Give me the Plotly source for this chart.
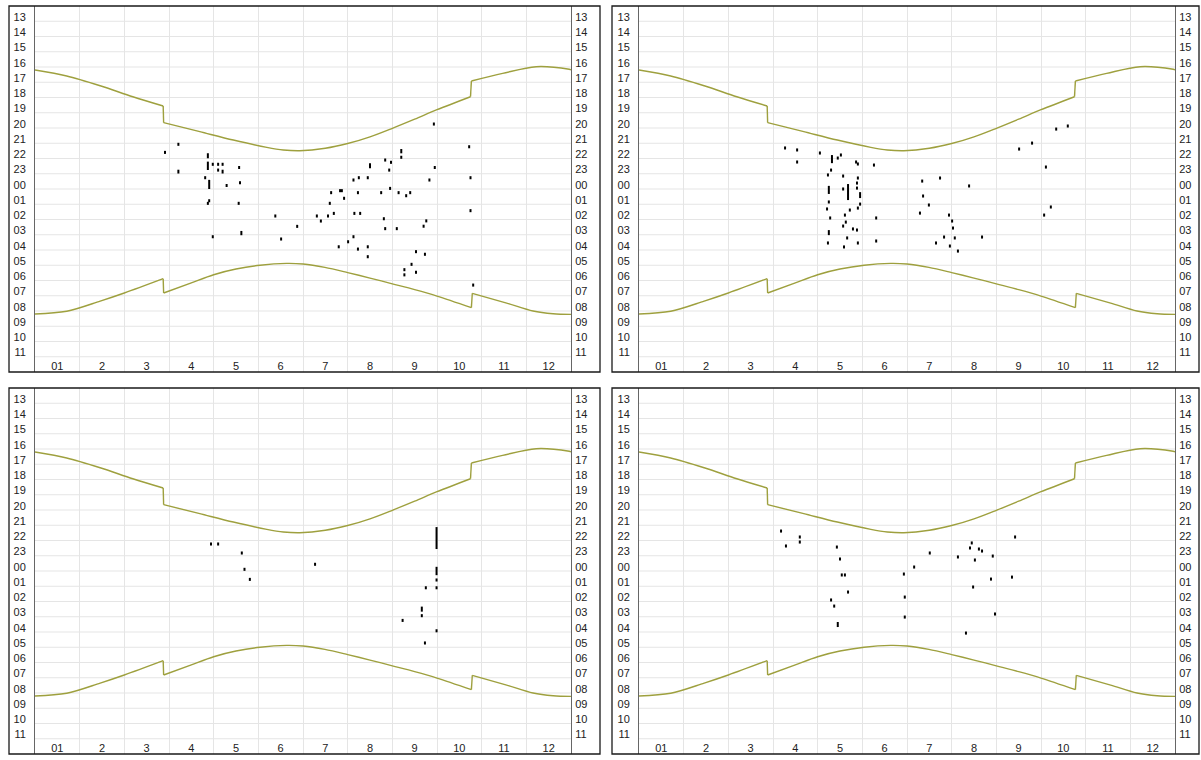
import plotly.graph_objects as go

W, H = 1201, 760

# ---- labels ----
hour_labels = ["13", "14", "15", "16", "17", "18", "19", "20", "21", "22", "23",
               "00", "01", "02", "03", "04", "05", "06", "07", "08", "09", "10", "11"]
month_labels = ["01", "2", "3", "4", "5", "6", "7", "8", "9", "10", "11", "12"]

# ---- sun curves: month position (0..12) and hours after 12:00 ----
sunset_month = [0, 0.71, 1.46, 2.19, 2.87, 2.88, 3.69, 4.44, 5.19, 5.56, 5.93, 6.5,
                7.0, 7.5, 8.0, 8.5, 9.0, 9.75, 9.77, 10.47, 11.22, 11.96, 12]
sunset_t = [4.70, 5.09, 5.73, 6.45, 7.06, 8.15, 8.74, 9.29, 9.77, 9.94, 9.99, 9.83,
            9.52, 9.08, 8.52, 7.92, 7.30, 6.45, 5.42, 4.92, 4.48, 4.65, 4.68]
sunrise_month = [0, 0.71, 1.46, 2.0, 2.87, 2.88, 3.5, 4.0, 4.5, 5.04, 5.63, 6.0, 6.49,
                 7.0, 7.5, 8.0, 8.5, 9.0, 9.77, 9.79, 10.56, 11.15, 11.6, 12]
sunrise_t = [20.70, 20.52, 19.85, 19.32, 18.38, 19.32, 18.65, 18.12, 17.75, 17.50, 17.38, 17.42,
             17.64, 17.98, 18.34, 18.72, 19.10, 19.52, 20.28, 19.34, 19.98, 20.50, 20.68, 20.72]

# ---- events per panel: month position, time (hours after 12:00), duration (h) ----
p1_month = [2.91, 3.21, 3.21, 3.87, 3.87, 3.98, 4.10, 4.20, 4.10, 4.20, 4.57, 3.81, 3.90, 4.29,
            4.59, 3.90, 3.87, 4.56, 3.98, 4.62, 5.38, 5.51, 5.87, 6.31, 6.40, 6.56, 6.69, 6.60,
            6.63, 6.83, 6.87, 6.92, 7.13, 7.25, 7.23, 7.15, 7.28, 7.13, 7.01, 6.80, 7.23, 7.45,
            7.45, 7.45, 7.50, 7.84, 7.97, 7.93, 7.95, 7.75, 8.14, 8.31, 8.40, 7.81, 7.84, 8.10,
            8.20, 8.20, 8.95, 8.83, 8.76, 8.70, 8.53, 8.73, 8.43, 8.27, 8.27, 8.53, 8.93, 9.72,
            9.75, 9.75, 9.81]
p1_t = [10.10, 9.57, 11.36, 10.32, 10.98, 10.88, 10.88, 10.88, 11.26, 11.36, 11.09, 11.76, 12.20,
        12.27, 12.09, 13.27, 13.44, 13.44, 15.63, 15.39, 14.27, 15.78, 14.95, 14.27, 14.60, 14.27,
        14.10, 13.44, 12.74, 12.61, 12.61, 13.11, 11.91, 11.76, 12.74, 14.10, 14.10, 15.63, 15.96,
        16.29, 16.44, 16.29, 16.94, 11.76, 10.98, 10.60, 10.75, 11.26, 12.46, 12.74, 12.74, 12.94,
        12.74, 14.45, 15.10, 15.10, 10.02, 10.42, 11.09, 11.91, 14.59, 14.94, 16.61, 16.78, 17.44,
        17.79, 18.13, 17.96, 8.24, 9.73, 11.76, 13.92, 18.80]
p1_span = [0.2, 0.2, 0.25, 0.33, 0.55, 0.2, 0.2, 0.2, 0.2, 0.25, 0.2, 0.2, 0.6, 0.2, 0.2, 0.2,
           0.2, 0.2, 0.2, 0.28, 0.2, 0.2, 0.2, 0.2, 0.2, 0.2, 0.2, 0.2, 0.2, 0.2, 0.2, 0.2, 0.2,
           0.2, 0.2, 0.2, 0.2, 0.2, 0.2, 0.2, 0.2, 0.2, 0.2, 0.2, 0.33, 0.2, 0.2, 0.2, 0.2, 0.2,
           0.2, 0.2, 0.2, 0.2, 0.2, 0.2, 0.28, 0.2, 0.2, 0.2, 0.2, 0.2, 0.2, 0.2, 0.2, 0.2, 0.2,
           0.2, 0.2, 0.2, 0.2, 0.2, 0.2]

p2_month = [3.27, 3.54, 3.54, 4.05, 4.32, 4.45, 4.52, 4.86, 4.90, 4.23, 4.30, 4.57, 4.90, 4.88,
            5.26, 4.25, 4.68, 4.57, 4.95, 4.88, 4.21, 4.25, 4.90, 4.95, 5.31, 4.61, 4.72, 4.28,
            4.25, 4.57, 4.63, 4.79, 4.88, 4.23, 4.59, 4.90, 5.31, 4.66, 6.34, 6.36, 6.49, 6.74,
            6.29, 6.94, 7.01, 7.03, 7.07, 6.65, 6.83, 6.96, 7.14, 7.39, 7.68, 8.51, 8.80, 9.11,
            9.07, 9.22, 9.34, 9.60]
p2_t = [9.81, 9.94, 10.73, 10.14, 10.54, 10.47, 10.27, 10.73, 10.86, 11.58, 11.26, 11.65, 11.78,
        12.11, 10.93, 12.56, 12.70, 12.50, 12.90, 12.44, 13.81, 13.35, 13.75, 13.49, 14.40, 14.21,
        13.88, 14.40, 15.36, 14.93, 14.67, 15.12, 15.19, 16.04, 16.30, 16.04, 15.91, 15.71, 11.98,
        12.96, 13.55, 11.78, 14.08, 14.21, 14.60, 15.06, 15.71, 16.04, 15.65, 16.24, 16.57, 12.30,
        15.65, 9.88, 9.49, 11.06, 14.21, 13.68, 8.57, 8.37]
p2_span = [0.2, 0.2, 0.2, 0.2, 0.53, 0.2, 0.2, 0.2, 0.2, 0.2, 0.2, 0.2, 0.2, 0.2, 0.2, 0.53, 1.05,
           0.2, 0.39, 0.2, 0.2, 0.2, 0.2, 0.2, 0.2, 0.2, 0.2, 0.2, 0.33, 0.2, 0.2, 0.2, 0.2, 0.2,
           0.2, 0.2, 0.2, 0.2, 0.2, 0.2, 0.2, 0.2, 0.2, 0.2, 0.2, 0.2, 0.2, 0.2, 0.2, 0.2, 0.2,
           0.2, 0.2, 0.2, 0.2, 0.2, 0.2, 0.2, 0.2, 0.2]

p3_month = [3.94, 4.10, 4.63, 4.69, 4.81, 6.27, 8.99, 8.99, 8.99, 8.99, 8.75, 8.66, 8.66, 8.23,
            8.99, 8.73]
p3_t = [10.73, 10.73, 11.32, 12.39, 13.05, 12.06, 10.34, 12.50, 13.09, 13.60, 13.60, 15.00,
        15.43, 15.74, 16.42, 17.22]
p3_span = [0.2, 0.2, 0.2, 0.2, 0.2, 0.2, 1.44, 0.55, 0.2, 0.2, 0.2, 0.33, 0.2, 0.2, 0.2, 0.2]

p4_month = [3.18, 3.29, 3.60, 3.60, 4.43, 4.50, 4.54, 4.61, 4.68, 4.30, 4.37, 4.45, 5.93, 5.95,
            5.95, 6.16, 6.51, 7.14, 7.32, 7.41, 7.45, 7.61, 7.68, 7.52, 7.48, 7.88, 7.92, 7.97,
            8.35, 8.42]
p4_t = [9.88, 10.86, 10.27, 10.60, 10.93, 11.71, 12.76, 12.76, 13.88, 14.40, 14.80, 16.01, 12.70,
        14.21, 15.52, 12.24, 11.32, 11.58, 16.57, 10.99, 10.66, 11.06, 11.19, 11.78, 13.55, 13.03,
        11.52, 15.32, 12.90, 10.27]
p4_span = [0.2, 0.2, 0.2, 0.2, 0.2, 0.2, 0.2, 0.2, 0.2, 0.2, 0.2, 0.33, 0.2, 0.2, 0.2, 0.2, 0.2,
           0.2, 0.2, 0.2, 0.2, 0.2, 0.2, 0.2, 0.2, 0.2, 0.2, 0.2, 0.2, 0.2]

# ---- layout geometry (pixels) ----
FONT = "Liberation Sans, Arial, Helvetica, sans-serif"
GRID = "#e5e5e5"
CURVE = "#9ea03e"
panels = [
    dict(frame=(9, 600, 6, 372), px=(35, 571), data=(p1_month, p1_t, p1_span)),
    dict(frame=(612, 1199, 6, 372), px=(639, 1175), data=(p2_month, p2_t, p2_span)),
    dict(frame=(9, 600, 388, 754), px=(35, 571), data=(p3_month, p3_t, p3_span)),
    dict(frame=(612, 1199, 388, 754), px=(639, 1175), data=(p4_month, p4_t, p4_span)),
]

n_rows = len(hour_labels) + 1  # last row holds month labels
y_range = [n_rows + 0.5, 0.5]
label_shift = 0.22
tickvals = [i + 1 + label_shift for i in range(len(hour_labels))]


def split_curve(ms, ts):
    pieces, jumps = [], []
    cur_m, cur_t = [ms[0]], [ts[0]]
    for i in range(1, len(ms)):
        if ms[i] - ms[i - 1] < 0.05 and abs(ts[i] - ts[i - 1]) > 0.5:
            pieces.append((cur_m, cur_t))
            jumps.append(((ms[i - 1], ms[i]), (ts[i - 1], ts[i])))
            cur_m, cur_t = [ms[i]], [ts[i]]
        else:
            cur_m.append(ms[i])
            cur_t.append(ts[i])
    pieces.append((cur_m, cur_t))
    return pieces, jumps


fig = go.Figure()
layout = dict(
    width=W, height=H, margin=dict(l=0, r=0, t=0, b=0),
    paper_bgcolor="white", plot_bgcolor="white", showlegend=False,
    font=dict(family=FONT, size=11, color="#222"),
    shapes=[],
)

for k, p in enumerate(panels, start=1):
    fx0, fx1, fy0, fy1 = p["frame"]
    ax0, ax1 = p["px"]
    xname = "x" if k == 1 else f"x{k}"
    yname = "y" if k == 1 else f"y{k}"
    y2name = f"y{k + 4}"
    xdom = [ax0 / W, ax1 / W]
    ydom = [1 - fy1 / H, 1 - fy0 / H]

    layout["xaxis" + ("" if k == 1 else str(k))] = dict(
        domain=xdom, range=[0, 12], anchor=yname,
        tickvals=list(range(1, 12)), showticklabels=False, ticks="",
        showgrid=True, gridcolor=GRID, gridwidth=1, zeroline=False, showline=False,
        fixedrange=True,
    )
    common_y = dict(
        domain=ydom, range=y_range, tickmode="array", tickvals=tickvals, ticktext=hour_labels,
        ticks="", showgrid=False, zeroline=False, showline=True, linecolor="#666", linewidth=1,
        tickfont=dict(family=FONT, size=11, color="#222"), fixedrange=True,
    )
    layout["yaxis" + ("" if k == 1 else str(k))] = dict(common_y, anchor=xname, side="left",
                                                        ticklabelstandoff=6)
    layout[f"yaxis{k + 4}"] = dict(common_y, anchor=xname, overlaying=yname, side="right",
                                   ticklabelstandoff=1)

    # horizontal row grid lines
    gx, gy = [], []
    for b in range(1, n_rows):
        gx += [0, 12, None]
        gy += [b + 0.5, b + 0.5, None]
    fig.add_trace(go.Scatter(x=gx, y=gy, mode="lines", line=dict(color=GRID, width=1),
                             xaxis=xname, yaxis=yname, hoverinfo="skip"))

    # sunrise / sunset curves
    for ms, ts in ((sunset_month, sunset_t), (sunrise_month, sunrise_t)):
        pieces, jumps = split_curve(ms, ts)
        for pm, pt in pieces:
            fig.add_trace(go.Scatter(x=pm, y=pt, mode="lines",
                                     line=dict(color=CURVE, width=1.4, shape="spline", smoothing=0.9),
                                     xaxis=xname, yaxis=yname, hoverinfo="skip"))
        jx, jy = [], []
        for (m0, m1), (t0, t1) in jumps:
            jx += [m0, m1, None]
            jy += [t0, t1, None]
        fig.add_trace(go.Scatter(x=jx, y=jy, mode="lines", line=dict(color=CURVE, width=1.4),
                                 xaxis=xname, yaxis=yname, hoverinfo="skip"))

    # events
    months, ts, spans = p["data"]
    ex, ey = [], []
    for m, t, s in zip(months, ts, spans):
        ex += [m, m, None]
        ey += [t - s / 2, t + s / 2, None]
    fig.add_trace(go.Scatter(x=ex, y=ey, mode="lines", line=dict(color="black", width=2),
                             xaxis=xname, yaxis=yname, hoverinfo="skip"))

    # month labels in bottom row
    fig.add_trace(go.Scatter(x=[i + 0.5 for i in range(12)], y=[n_rows + label_shift] * 12,
                             mode="text", text=month_labels,
                             textfont=dict(family=FONT, size=11, color="#222"),
                             xaxis=xname, yaxis=yname, hoverinfo="skip"))
    # anchor trace for right axis
    fig.add_trace(go.Scatter(x=[None], y=[None], mode="markers", xaxis=xname, yaxis=y2name,
                             hoverinfo="skip"))

    layout["shapes"].append(dict(type="rect", xref="paper", yref="paper",
                                 x0=fx0 / W, x1=fx1 / W, y0=1 - fy1 / H, y1=1 - fy0 / H,
                                 line=dict(color="#1a1a1a", width=1.3), layer="above"))

fig.update_layout(**layout)
fig.write_html("out.html", config={"displayModeBar": False, "staticPlot": True},
               post_script="document.body.style.margin='0';document.body.style.overflow='hidden';")
